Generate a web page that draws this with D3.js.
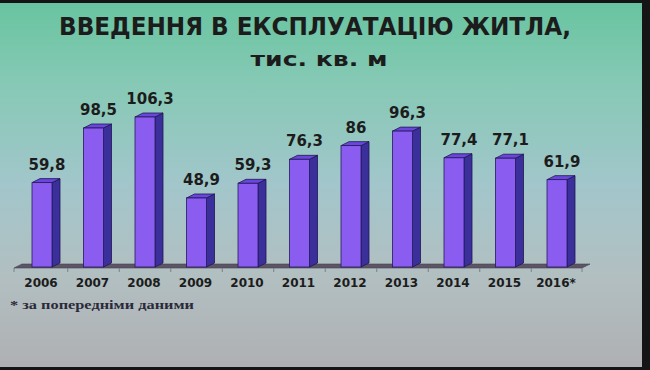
<!DOCTYPE html>
<html>
<head>
<meta charset="utf-8">
<script src="https://cdn.jsdelivr.net/npm/d3@7"></script>
<style>
  html, body { margin: 0; padding: 0; background: #151515; }
  svg { display: block; }
</style>
</head>
<body>
<div id="chart"></div>
<script>
const years = ['2006', '2007', '2008', '2009', '2010', '2011', '2012', '2013', '2014', '2015', '2016*'];
const values = [59.8, 98.5, 106.3, 48.9, 59.3, 76.3, 86, 96.3, 77.4, 77.1, 61.9];
const title = 'ВВЕДЕННЯ В ЕКСПЛУАТАЦІЮ ЖИТЛА,';
const subtitle = 'тис. кв. м';
const footnote = '* за попередніми даними';

const width = 650;
const height = 370;

const dim = {
  baseY: 267,
  depthX: 8,
  depthY: -4,
  barStep: 51.5,
  barWidth: 20,
};

const svg = d3.select('#chart').append('svg')
  .attr('width', width)
  .attr('height', height);

// slide background
const defs = svg.append('defs');
const grad = defs.append('linearGradient')
  .attr('id', 'bg')
  .attr('x1', 0).attr('y1', 0).attr('x2', 0).attr('y2', 1);
[
  [0, '#68c4a0'],
  [0.22, '#86c9b5'],
  [0.5, '#a2c6cb'],
  [0.75, '#b2bfc1'],
  [1, '#afb0b3'],
].forEach(([o, c]) => grad.append('stop').attr('offset', o).attr('stop-color', c));

svg.append('rect')
  .attr('x', 0).attr('y', 3)
  .attr('width', 642).attr('height', 364)
  .attr('fill', 'url(#bg)');

// titles
svg.append('text')
  .attr('x', 315).attr('y', 35)
  .attr('text-anchor', 'middle')
  .attr('textLength', 512)
  .attr('lengthAdjust', 'spacingAndGlyphs')
  .style('font-family', 'DejaVu Sans, sans-serif')
  .style('font-weight', 'bold')
  .style('font-size', '24px')
  .style('fill', '#1c1c1c')
  .text(title);

svg.append('text')
  .attr('x', 319).attr('y', 66)
  .attr('text-anchor', 'middle')
  .attr('textLength', 137)
  .attr('lengthAdjust', 'spacingAndGlyphs')
  .style('font-family', 'DejaVu Sans, sans-serif')
  .style('font-weight', 'bold')
  .style('font-size', '20px')
  .style('fill', '#1c1c1c')
  .text(subtitle);

// scales
const pad = 1 - dim.barWidth / dim.barStep;
const x = d3.scaleBand()
  .domain(years)
  .range([0.5, 0.5 + dim.barStep * (years.length + pad)])
  .padding(pad);

const y = d3.scaleLinear()
  .domain([0, 106.3])
  .range([dim.baseY, dim.baseY - 150]);

const bw = x.bandwidth();

// floor slab
const floorLeft = x(years[0]) - 18;
const floorRight = x(years[years.length - 1]) + bw + 15;
svg.append('path')
  .attr('d', `M${floorLeft},${dim.baseY + 1} L${floorRight},${dim.baseY + 1} L${floorRight + dim.depthX},${dim.baseY + 1 + dim.depthY} L${floorLeft + dim.depthX},${dim.baseY + 1 + dim.depthY} Z`)
  .attr('fill', '#5c5565')
  .attr('stroke', '#47414f')
  .attr('stroke-width', 0.6);

// category ticks under the floor
const tickXs = [floorLeft].concat(years.slice(0, -1).map(yr => x(yr) + bw + (x.step() - bw) / 2), [floorRight]);
svg.append('g')
  .selectAll('line')
  .data(tickXs)
  .enter().append('line')
  .attr('x1', d => d).attr('x2', d => d)
  .attr('y1', dim.baseY + 1).attr('y2', dim.baseY + 5)
  .attr('stroke', '#7d8082')
  .attr('stroke-width', 1);

// bars
const bars = svg.append('g').attr('class', 'bars')
  .selectAll('g')
  .data(values)
  .enter().append('g');

bars.append('path')
  .attr('class', 'side')
  .attr('d', (v, i) => {
    const x1 = x(years[i]) + bw;
    const yt = y(v);
    return `M${x1},${yt} L${x1 + dim.depthX},${yt + dim.depthY} L${x1 + dim.depthX},${dim.baseY + dim.depthY} L${x1},${dim.baseY} Z`;
  })
  .attr('fill', '#3b2f9c')
  .attr('stroke', '#1e1650')
  .attr('stroke-width', 0.8);

bars.append('path')
  .attr('class', 'top')
  .attr('d', (v, i) => {
    const x0 = x(years[i]);
    const yt = y(v);
    return `M${x0},${yt} L${x0 + dim.depthX},${yt + dim.depthY} L${x0 + bw + dim.depthX},${yt + dim.depthY} L${x0 + bw},${yt} Z`;
  })
  .attr('fill', '#6a46dc')
  .attr('stroke', '#1e1650')
  .attr('stroke-width', 0.8);

bars.append('rect')
  .attr('class', 'front')
  .attr('x', (v, i) => x(years[i]))
  .attr('y', v => y(v))
  .attr('width', bw)
  .attr('height', v => dim.baseY - y(v))
  .attr('fill', '#8b5cf0')
  .attr('stroke', '#241a5c')
  .attr('stroke-width', 0.8);

// value labels
svg.append('g')
  .selectAll('text')
  .data(values)
  .enter().append('text')
  .attr('x', (v, i) => x(years[i]) + bw / 2 + 5)
  .attr('y', v => y(v) - 13)
  .attr('text-anchor', 'middle')
  .style('font-family', 'DejaVu Sans, sans-serif')
  .style('font-weight', 'bold')
  .style('font-size', '15px')
  .style('fill', '#1c1c1c')
  .text(v => String(v).replace('.', ','));

// year labels
svg.append('g')
  .selectAll('text')
  .data(years)
  .enter().append('text')
  .attr('x', yr => x(yr) + bw / 2 - 1)
  .attr('y', 287)
  .attr('text-anchor', 'middle')
  .style('font-family', 'DejaVu Sans, sans-serif')
  .style('font-weight', 'bold')
  .style('font-size', '12px')
  .style('fill', '#1c1c1c')
  .text(yr => yr);

// footnote
svg.append('text')
  .attr('x', 10).attr('y', 309)
  .attr('textLength', 184)
  .attr('lengthAdjust', 'spacingAndGlyphs')
  .style('font-family', 'Liberation Serif, serif')
  .style('font-weight', 'bold')
  .style('font-size', '13px')
  .style('fill', '#2a2a3a')
  .text(footnote);
</script>
</body>
</html>
